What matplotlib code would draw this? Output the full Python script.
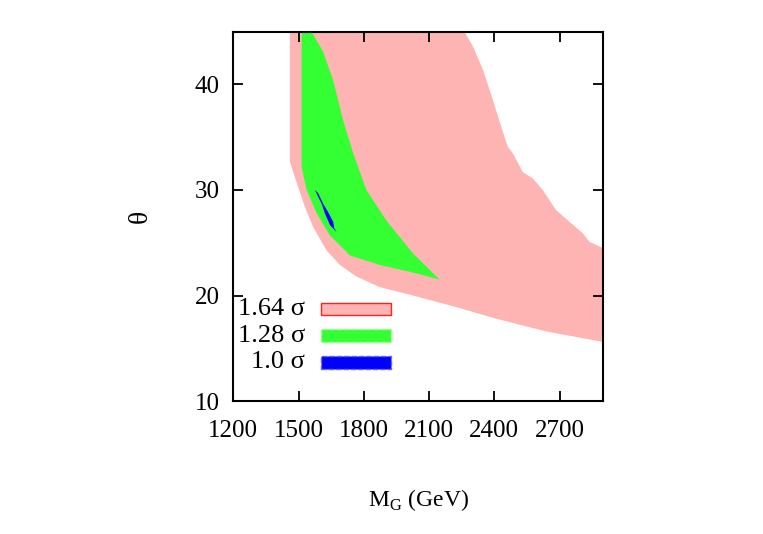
import matplotlib
matplotlib.use("Agg")
import matplotlib.pyplot as plt
from matplotlib.patches import Rectangle

plt.rcParams["font.family"] = ["Liberation Serif", "DejaVu Serif"]
plt.rcParams["mathtext.fontset"] = "custom"
plt.rcParams["mathtext.rm"] = "Liberation Serif"

# 1.64 sigma region: lower-left edge, then the upper-right edge
pink_lo_x = [1460, 1460, 1483, 1529, 1567, 1628, 1690, 1766, 1873, 2026, 2225, 2409, 2638, 2900]
pink_lo_y = [45.0, 32.7, 31.2, 28.4, 26.5, 24.3, 22.9, 21.8, 20.8, 20.0, 18.9, 17.8, 16.6, 15.6]
pink_hi_x = [2900, 2837, 2807, 2745, 2684, 2623, 2577, 2531, 2485, 2462, 2432, 2394, 2348, 2302, 2263]
pink_hi_y = [24.5, 25.1, 25.9, 27.0, 28.1, 30.0, 31.1, 31.7, 33.5, 34.1, 36.0, 38.5, 41.4, 43.6, 45.0]

# 1.28 sigma region
green_lo_x = [1514, 1514, 1537, 1583, 1644, 1736, 1873, 2042, 2149]
green_lo_y = [45.0, 32.2, 30.0, 27.8, 25.7, 23.8, 22.9, 22.1, 21.5]
green_hi_x = [2026, 1904, 1812, 1751, 1705, 1659, 1613, 1560]
green_hi_y = [24.0, 27.1, 30.0, 33.5, 36.6, 40.4, 43.1, 45.0]

# 1.0 sigma region
blue_lo_x = [1575, 1606, 1621, 1644, 1675]
blue_lo_y = [30.0, 28.7, 27.8, 26.7, 26.0]
blue_hi_x = [1664, 1659, 1636, 1613, 1590]
blue_hi_y = [26.4, 27.0, 27.9, 28.7, 29.7]

xticks = [1200, 1500, 1800, 2100, 2400, 2700]
yticks = [10, 20, 30, 40]

c_pink = "#ffb4b4"
c_green = "#33ff33"
c_blue = "#0000ff"

fig = plt.figure(figsize=(7.63, 5.34), dpi=100)
ax = fig.add_axes([0.3058, 0.249, 0.4845, 0.6916])

ax.fill(pink_lo_x + pink_hi_x, pink_lo_y + pink_hi_y, color=c_pink, lw=0)
ax.fill(green_lo_x + green_hi_x, green_lo_y + green_hi_y, color=c_green, lw=0)
ax.fill(blue_lo_x + blue_hi_x, blue_lo_y + blue_hi_y, color=c_blue, lw=0)

ax.set_xlim(1200, 2900)
ax.set_ylim(10, 45)
ax.set_xticks(xticks)
ax.set_yticks(yticks)
ax.tick_params(direction="in", length=7, width=1.3, labelsize=18,
               top=True, right=True)
ax.tick_params(axis="x", pad=14)
ax.tick_params(axis="y", pad=10)
for s in ax.spines.values():
    s.set_linewidth(1.5)

ax.set_xlabel("M$_{\\rm G}$ (GeV)", fontsize=17, labelpad=32)
ax.set_ylabel("θ", fontsize=20, labelpad=30, rotation=90)

# legend in gnuplot style: label on the left, sample box on the right
labels = ["1.64 σ", "1.28 σ", "1.0 σ"]
faces = [c_pink, c_green, c_blue]
edges = ["#ff2020", "#a0ff90", "#6060ff"]
styles = ["solid", "dashed", "dashed"]
rows = [0.249, 0.177, 0.105]
for lab, fc, ec, ls, yc in zip(labels, faces, edges, styles, rows):
    ax.text(0.194, yc, lab, transform=ax.transAxes, ha="right", va="center",
            fontsize=19)
    ax.add_patch(Rectangle((0.237, yc - 0.017), 0.19, 0.034, transform=ax.transAxes,
                           facecolor=fc, edgecolor=ec, linestyle=ls, lw=1.0))

fig.savefig("out.png", dpi=100)
